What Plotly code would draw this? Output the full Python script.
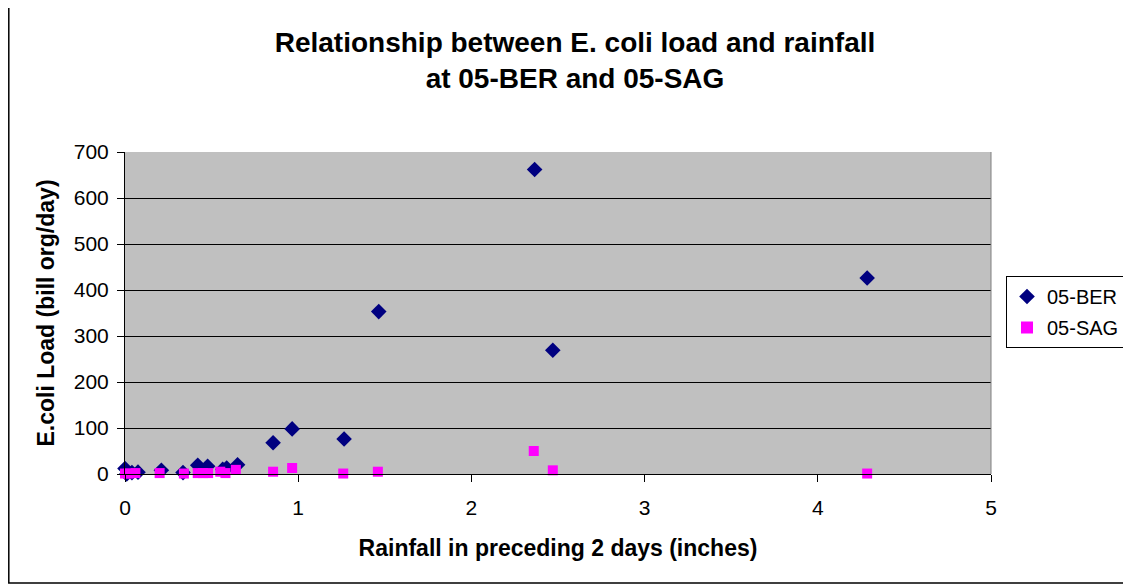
import plotly.graph_objects as go

ber_x = [0.0, 0.01, 0.04, 0.075, 0.21, 0.335, 0.42, 0.477, 0.564, 0.587, 0.65, 0.855, 0.965, 1.265, 1.465, 2.365, 2.47, 4.285]
ber_y = [12, 0, 3, 4, 8, 3, 19, 17, 10, 13, 20, 68, 98, 76, 353, 662, 269, 426]

sag_x = [0.0, 0.02, 0.06, 0.2, 0.34, 0.42, 0.45, 0.48, 0.55, 0.58, 0.64, 0.855, 0.965, 1.26, 1.46, 2.36, 2.47, 4.285]
sag_y = [1, 1, 2, 2, 1, 2, 2, 2, 5, 2, 9, 5, 13, 1, 5, 50, 8, 1]

title_text = "Relationship between E. coli load and rainfall<br>at 05-BER and 05-SAG"
x_title = "Rainfall in preceding 2 days (inches)"
y_title = "E.coli Load (bill org/day)"

# page body adds an 8px margin; figure coords = screen coords - 8
OFF = 8
W, H = 1131 - 2 * OFF, 585 - OFF
L, T = 125 - OFF, 152 - OFF
R = W - (991 - OFF)
B = H - (474 - OFF)
pw, ph = W - L - R, H - T - B


def px_x(sx):
    return (sx - OFF - L) / pw


def px_y(sy):
    return 1 - (sy - OFF - T) / ph


fig = go.Figure()
fig.add_trace(go.Scatter(x=ber_x, y=ber_y, mode="markers", name="05-BER", legendgroup="a",
                         cliponaxis=False,
                         marker=dict(symbol="diamond", color="#000080", size=12, line=dict(width=0))))
fig.add_trace(go.Scatter(x=sag_x, y=sag_y, mode="markers", name="05-SAG", legendgroup="b",
                         cliponaxis=False,
                         marker=dict(symbol="square", color="#FF00FF", size=10, line=dict(width=0))))

font = "Arial, Liberation Sans, sans-serif"
fig.update_layout(
    width=W, height=H,
    margin=dict(l=L, r=R, t=T, b=B, autoexpand=False),
    paper_bgcolor="white", plot_bgcolor="#C0C0C0",
    font=dict(family=font, size=21, color="black"),
    title=dict(text="<b>" + title_text + "</b>", x=(575 - OFF) / W, xanchor="center",
               y=1 - (52 - OFF) / H, yanchor="middle", font=dict(size=28, family=font)),
    showlegend=True,
    legend=dict(x=px_x(1006), xanchor="left", y=px_y(276), yanchor="top",
                bordercolor="black", borderwidth=1, bgcolor="white",
                font=dict(size=20, family=font), itemsizing="constant",
                tracegroupgap=2, itemwidth=30),
    xaxis=dict(range=[0, 5], dtick=1, tick0=0, showgrid=False, zeroline=False,
               ticks="outside", ticklen=7, tickcolor="black", showline=True, linecolor="black",
               linewidth=1, mirror=False, tickfont=dict(size=21), ticklabelstandoff=8,
               title=dict(text="<b>" + x_title + "</b>", font=dict(size=23), standoff=21)),
    yaxis=dict(range=[0, 700], dtick=100, showgrid=True, gridcolor="black", gridwidth=1,
               zeroline=False, ticks="outside", ticklen=7, tickcolor="black", showline=True,
               linecolor="black", linewidth=1, tickfont=dict(size=21), ticklabelstandoff=4,
               title=dict(text="<b>" + y_title + "</b>", font=dict(size=23), standoff=12)),
    shapes=[
        dict(type="rect", xref="paper", yref="paper",
             x0=px_x(8.8), x1=px_x(1145), y0=px_y(5), y1=px_y(583),
             line=dict(color="black", width=1.5), fillcolor="rgba(0,0,0,0)", layer="below"),
        dict(type="line", xref="paper", yref="paper", x0=1, x1=1, y0=0, y1=1,
             line=dict(color="#808080", width=1)),
    ],
)

fig.write_html("out.html")
